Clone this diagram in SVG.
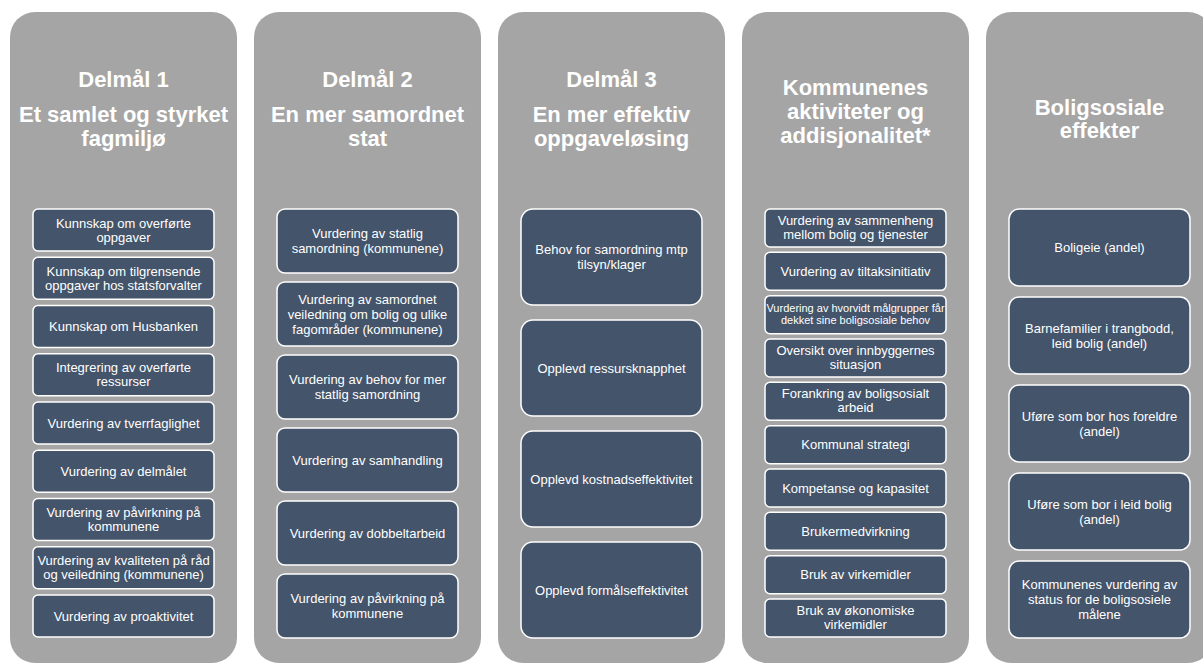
<svg xmlns="http://www.w3.org/2000/svg" width="1203" height="664" viewBox="0 0 1203 664">
<style>
.panel{fill:#A5A5A5;}
.box{fill:#44546A;stroke:#FFFFFF;stroke-width:1.5;}
.t{font-family:"Liberation Sans",Arial,sans-serif;font-weight:bold;font-size:22px;fill:#FFFFFF;text-anchor:middle;}
.b{font-family:"Liberation Sans",Arial,sans-serif;font-size:13px;fill:#FFFFFF;text-anchor:middle;}
.s{font-family:"Liberation Sans",Arial,sans-serif;font-size:11px;fill:#FFFFFF;text-anchor:middle;}
</style>
<rect width="1203" height="664" fill="#FFFFFF"/>

<g id="col1">
<rect class="panel" x="10" y="12" width="227" height="651" rx="25"/>
<text class="t" x="123.5" y="87">Delmål 1</text>
<text class="t" x="123.5" y="122">Et samlet og styrket</text>
<text class="t" x="123.5" y="146">fagmiljø</text>
</g>
<g id="col1-n1"><rect class="box" x="33" y="209" width="181" height="42" rx="5"/><text class="b" x="123.5" y="227.6">Kunnskap om overførte</text><text class="b" x="123.5" y="241.6">oppgaver</text></g>
<g id="col1-n2"><rect class="box" x="33" y="257.25" width="181" height="42" rx="5"/><text class="b" x="123.5" y="275.85">Kunnskap om tilgrensende</text><text class="b" x="123.5" y="289.85">oppgaver hos statsforvalter</text></g>
<g id="col1-n3"><rect class="box" x="33" y="305.5" width="181" height="42" rx="5"/><text class="b" x="123.5" y="331.1">Kunnskap om Husbanken</text></g>
<g id="col1-n4"><rect class="box" x="33" y="353.75" width="181" height="42" rx="5"/><text class="b" x="123.5" y="372.35">Integrering av overførte</text><text class="b" x="123.5" y="386.35">ressurser</text></g>
<g id="col1-n5"><rect class="box" x="33" y="402" width="181" height="42" rx="5"/><text class="b" x="123.5" y="427.6">Vurdering av tverrfaglighet</text></g>
<g id="col1-n6"><rect class="box" x="33" y="450.25" width="181" height="42" rx="5"/><text class="b" x="123.5" y="475.85">Vurdering av delmålet</text></g>
<g id="col1-n7"><rect class="box" x="33" y="498.5" width="181" height="42" rx="5"/><text class="b" x="123.5" y="517.1">Vurdering av påvirkning på</text><text class="b" x="123.5" y="531.1">kommunene</text></g>
<g id="col1-n8"><rect class="box" x="33" y="546.75" width="181" height="42" rx="5"/><text class="b" x="123.5" y="565.35">Vurdering av kvaliteten på råd</text><text class="b" x="123.5" y="579.35">og veiledning (kommunene)</text></g>
<g id="col1-n9"><rect class="box" x="33" y="595" width="181" height="42" rx="5"/><text class="b" x="123.5" y="620.6">Vurdering av proaktivitet</text></g>

<g id="col2">
<rect class="panel" x="254" y="12" width="227" height="651" rx="25"/>
<text class="t" x="367.5" y="87">Delmål 2</text>
<text class="t" x="367.5" y="122">En mer samordnet</text>
<text class="t" x="367.5" y="146">stat</text>
</g>
<g id="col2-n1"><rect class="box" x="277" y="209" width="181" height="64" rx="8"/><text class="b" x="367.5" y="238.1">Vurdering av statlig</text><text class="b" x="367.5" y="253.1">samordning (kommunene)</text></g>
<g id="col2-n2"><rect class="box" x="277" y="282" width="181" height="64" rx="8"/><text class="b" x="367.5" y="303.6">Vurdering av samordnet</text><text class="b" x="367.5" y="318.6">veiledning om bolig og ulike</text><text class="b" x="367.5" y="333.6">fagområder (kommunene)</text></g>
<g id="col2-n3"><rect class="box" x="277" y="355" width="181" height="64" rx="8"/><text class="b" x="367.5" y="384.1">Vurdering av behov for mer</text><text class="b" x="367.5" y="399.1">statlig samordning</text></g>
<g id="col2-n4"><rect class="box" x="277" y="428" width="181" height="64" rx="8"/><text class="b" x="367.5" y="464.6">Vurdering av samhandling</text></g>
<g id="col2-n5"><rect class="box" x="277" y="501" width="181" height="64" rx="8"/><text class="b" x="367.5" y="537.6">Vurdering av dobbeltarbeid</text></g>
<g id="col2-n6"><rect class="box" x="277" y="574" width="181" height="64" rx="8"/><text class="b" x="367.5" y="603.1">Vurdering av påvirkning på</text><text class="b" x="367.5" y="618.1">kommunene</text></g>

<g id="col3">
<rect class="panel" x="498" y="12" width="227" height="651" rx="25"/>
<text class="t" x="611.5" y="87">Delmål 3</text>
<text class="t" x="611.5" y="122">En mer effektiv</text>
<text class="t" x="611.5" y="146">oppgaveløsing</text>
</g>
<g id="col3-n1"><rect class="box" x="521" y="209" width="181" height="96" rx="12"/><text class="b" x="611.5" y="254.1">Behov for samordning mtp</text><text class="b" x="611.5" y="269.1">tilsyn/klager</text></g>
<g id="col3-n2"><rect class="box" x="521" y="320" width="181" height="96" rx="12"/><text class="b" x="611.5" y="372.6">Opplevd ressursknapphet</text></g>
<g id="col3-n3"><rect class="box" x="521" y="431" width="181" height="96" rx="12"/><text class="b" x="611.5" y="483.6">Opplevd kostnadseffektivitet</text></g>
<g id="col3-n4"><rect class="box" x="521" y="542" width="181" height="96" rx="12"/><text class="b" x="611.5" y="594.6">Opplevd formålseffektivitet</text></g>

<g id="col4">
<rect class="panel" x="742" y="12" width="227" height="651" rx="25"/>
<text class="t" x="855.5" y="95">Kommunenes</text>
<text class="t" x="855.5" y="119">aktiviteter og</text>
<text class="t" x="855.5" y="143">addisjonalitet*</text>
</g>
<g id="col4-n1"><rect class="box" x="765" y="209" width="181" height="38" rx="5"/><text class="b" x="855.5" y="224.6">Vurdering av sammenheng</text><text class="b" x="855.5" y="238.6">mellom bolig og tjenester</text></g>
<g id="col4-n2"><rect class="box" x="765" y="252.33" width="181" height="38" rx="5"/><text class="b" x="855.5" y="275.9">Vurdering av tiltaksinitiativ</text></g>
<g id="col4-n3"><rect class="box" x="765" y="295.67" width="181" height="38" rx="5"/><text class="s" x="855.5" y="312.1">Vurdering av hvorvidt målgrupper får</text><text class="s" x="855.5" y="324.1">dekket sine boligsosiale behov</text></g>
<g id="col4-n4"><rect class="box" x="765" y="339" width="181" height="38" rx="5"/><text class="b" x="855.5" y="354.6">Oversikt over innbyggernes</text><text class="b" x="855.5" y="368.6">situasjon</text></g>
<g id="col4-n5"><rect class="box" x="765" y="382.33" width="181" height="38" rx="5"/><text class="b" x="855.5" y="397.9">Forankring av boligsosialt</text><text class="b" x="855.5" y="411.9">arbeid</text></g>
<g id="col4-n6"><rect class="box" x="765" y="425.67" width="181" height="38" rx="5"/><text class="b" x="855.5" y="449.3">Kommunal strategi</text></g>
<g id="col4-n7"><rect class="box" x="765" y="469" width="181" height="38" rx="5"/><text class="b" x="855.5" y="492.6">Kompetanse og kapasitet</text></g>
<g id="col4-n8"><rect class="box" x="765" y="512.33" width="181" height="38" rx="5"/><text class="b" x="855.5" y="535.9">Brukermedvirkning</text></g>
<g id="col4-n9"><rect class="box" x="765" y="555.67" width="181" height="38" rx="5"/><text class="b" x="855.5" y="579.3">Bruk av virkemidler</text></g>
<g id="col4-n10"><rect class="box" x="765" y="599" width="181" height="38" rx="5"/><text class="b" x="855.5" y="614.6">Bruk av økonomiske</text><text class="b" x="855.5" y="628.6">virkemidler</text></g>

<g id="col5">
<rect class="panel" x="986" y="12" width="227" height="651" rx="25"/>
<text class="t" x="1099.5" y="115">Boligsosiale</text>
<text class="t" x="1099.5" y="138">effekter</text>
</g>
<g id="col5-n1"><rect class="box" x="1009" y="209" width="181" height="77" rx="10"/><text class="b" x="1099.5" y="252.1">Boligeie (andel)</text></g>
<g id="col5-n2"><rect class="box" x="1009" y="297" width="181" height="77" rx="10"/><text class="b" x="1099.5" y="332.6">Barnefamilier i trangbodd,</text><text class="b" x="1099.5" y="347.6">leid bolig (andel)</text></g>
<g id="col5-n3"><rect class="box" x="1009" y="385" width="181" height="77" rx="10"/><text class="b" x="1099.5" y="420.6">Uføre som bor hos foreldre</text><text class="b" x="1099.5" y="435.6">(andel)</text></g>
<g id="col5-n4"><rect class="box" x="1009" y="473" width="181" height="77" rx="10"/><text class="b" x="1099.5" y="508.6">Uføre som bor i leid bolig</text><text class="b" x="1099.5" y="523.6">(andel)</text></g>
<g id="col5-n5"><rect class="box" x="1009" y="561" width="181" height="77" rx="10"/><text class="b" x="1099.5" y="589.1">Kommunenes vurdering av</text><text class="b" x="1099.5" y="604.1">status for de boligsosiele</text><text class="b" x="1099.5" y="619.1">målene</text></g>

<g id="connectors"></g>
</svg>
